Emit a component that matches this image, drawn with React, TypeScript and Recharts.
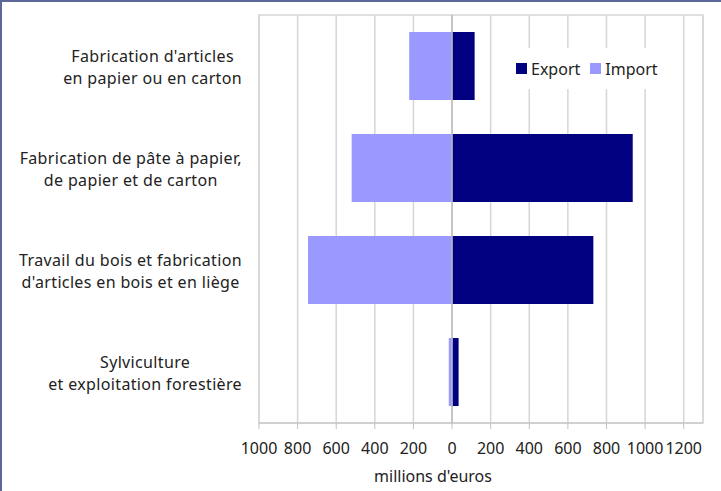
import React from 'react';
import {
  BarChart,
  Bar,
  XAxis,
  YAxis,
  CartesianGrid,
  ReferenceLine,
  ReferenceArea,
  Legend,
  Label,
} from 'recharts';

const categories = [
  "Fabrication d'articles\nen papier ou en carton",
  "Fabrication de pâte à papier,\nde papier et de carton",
  "Travail du bois et fabrication\nd'articles en bois et en liège",
  "Sylviculture\net exploitation forestière",
];
const exportValues = [117, 936, 732, 34];
const importValues = [-222, -520, -746, -17];
const xTicks = [-1000, -800, -600, -400, -200, 0, 200, 400, 600, 800, 1000, 1200];
const seriesNames = ['Export', 'Import'];
const seriesColors = ['#000080', '#9999FF'];
const axisTitle = "millions d'euros";

const data = categories.map((c, i) => ({
  name: c,
  Export: exportValues[i],
  Import: importValues[i],
}));

const FONT = "'Noto Sans', sans-serif";
const FS = 16;
const LS = 0.35;
const TXT = '#222222';

let ctx: CanvasRenderingContext2D | null = null;
const measure = (s: string) => {
  if (!ctx) {
    ctx = document.createElement('canvas').getContext('2d');
  }
  if (!ctx) return s.length * 8.5;
  ctx.font = `${FS}px 'Noto Sans'`;
  return ctx.measureText(s).width + LS * s.length;
};

const CatTick = (props: any) => {
  const { x, y, payload } = props;
  const lines = String(payload.value).split('\n');
  const w = Math.max(...lines.map(measure));
  const cx = x - w / 2;
  return (
    <text textAnchor="middle" fontFamily={FONT} fontSize={FS} fill={TXT} letterSpacing={LS}>
      {lines.map((l, i) => (
        <tspan key={i} x={cx} y={y - 4 + i * 22}>
          {l}
        </tspan>
      ))}
    </text>
  );
};

const LegendContent = () => (
  <div
    style={{
      display: 'flex',
      alignItems: 'center',
      height: '100%',
      paddingLeft: 19,
      fontFamily: FONT,
      fontSize: FS,
      color: TXT,
      boxSizing: 'border-box',
    }}
  >
    {seriesNames.map((n, i) => (
      <div key={n} style={{ display: 'flex', alignItems: 'center', marginRight: 10 }}>
        <div style={{ width: 11, height: 11, background: seriesColors[i], marginRight: 4 }} />
        <span>{n}</span>
      </div>
    ))}
  </div>
);

export default function App() {
  return (
    <div style={{ position: 'absolute', left: 0, top: 0, width: 721, height: 491, background: '#fff' }}>
      <BarChart
        width={721}
        height={491}
        data={data}
        layout="vertical"
        stackOffset="sign"
        barCategoryGap="16.7%"
        margin={{ top: 15, right: 18, left: 0, bottom: 0 }}
      >
        <CartesianGrid vertical horizontal={false} stroke="#d6d6d6" strokeWidth={1.5} />
        <ReferenceArea x1={-1000} x2={1300} fill="none" stroke="#d6d6d6" strokeWidth={1.5} ifOverflow="visible" />
        <XAxis
          type="number"
          domain={[-1000, 1300]}
          ticks={xTicks}
          interval={0}
          allowDataOverflow
          tickFormatter={(v: number) => String(Math.abs(v))}
          tick={{ fontFamily: FONT, fontSize: FS, fill: TXT }}
          stroke="#c0c0c0"
          tickSize={6}
          tickMargin={14}
          height={68}
        >
          <Label
            value={axisTitle}
            position="insideBottom"
            offset={9}
            dx={-48}
            style={{ fontFamily: FONT, fontSize: FS, fill: TXT }}
          />
        </XAxis>
        <YAxis
          type="category"
          dataKey="name"
          width={259}
          axisLine={false}
          tickLine={false}
          tickSize={0}
          tickMargin={17}
          tick={<CatTick />}
          interval={0}
        />
        <Bar dataKey="Import" stackId="a" fill={seriesColors[1]} isAnimationActive={false} />
        <Bar dataKey="Export" stackId="a" fill={seriesColors[0]} isAnimationActive={false} />
        <ReferenceLine x={0} stroke="#bdbdbd" strokeWidth={1.5} />
        <Legend
          layout="horizontal"
          verticalAlign="middle"
          align="center"
          content={<LegendContent />}
          wrapperStyle={{ position: 'absolute', left: 497, top: 48, width: 185, height: 41, background: '#fff' }}
        />
      </BarChart>
      <div style={{ position: 'absolute', left: 0, top: 0, width: 721, height: 2, background: '#5b6899' }} />
      <div style={{ position: 'absolute', left: 0, top: 0, width: 2, height: 491, background: '#5b6899' }} />
    </div>
  );
}
